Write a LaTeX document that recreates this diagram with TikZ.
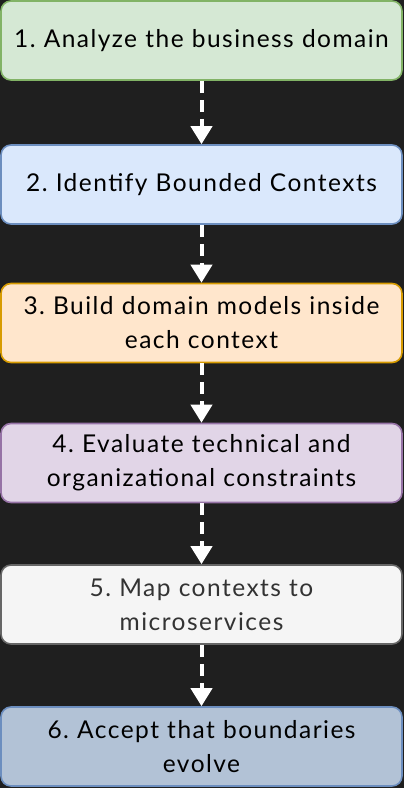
\documentclass[tikz,border=0pt]{standalone}
\usepackage{fontspec}
\setmainfont[LetterSpace=6]{Lato}
\usetikzlibrary{arrows.meta}
\definecolor{bg}{HTML}{1F1F1F}
\definecolor{gfill}{HTML}{D5E8D4}\definecolor{gdraw}{HTML}{82B366}
\definecolor{bfill}{HTML}{DAE8FC}\definecolor{bdraw}{HTML}{6C8EBF}
\definecolor{ofill}{HTML}{FFE6CC}\definecolor{odraw}{HTML}{D79B00}
\definecolor{pfill}{HTML}{E1D5E7}\definecolor{pdraw}{HTML}{9673A6}
\definecolor{wfill}{HTML}{F5F5F5}\definecolor{wdraw}{HTML}{666666}\definecolor{wtext}{HTML}{333333}
\definecolor{sfill}{HTML}{B2C2D6}
\frenchspacing
\begin{document}
\begin{tikzpicture}[x=1pt,y=-1pt,
  stepbox/.style={draw, line width=1.6pt, rounded corners=10pt, minimum width=401pt, minimum height=79pt,
    text width=398pt, align=center, inner sep=0pt, font=\fontsize{24.5}{34}\selectfont},
  flow/.style={draw=white, line width=4pt, dash pattern=on 12pt off 7pt,
    -{Triangle[width=21pt,length=18pt,fill=white]}}]
\fill[bg] (0,0) rectangle (404,788);
\useasboundingbox (0,0) rectangle (404,788);
\node[stepbox, fill=gfill, draw=gdraw] (s1) at (201.5,40.5) {1. Analyze the business domain};
\node[stepbox, fill=bfill, draw=bdraw] (s2) at (201.5,184.5) {2. Identify Bounded Contexts};
\node[stepbox, fill=ofill, draw=odraw] (s3) at (201.5,323) {3. Build domain models inside\\each context};
\node[stepbox, fill=pfill, draw=pdraw] (s4) at (201.5,463) {4. Evaluate technical and\\organizational constraints};
\node[stepbox, fill=wfill, draw=wdraw, text=wtext] (s5) at (201.5,604.5) {5. Map contexts to\\microservices};
\node[stepbox, fill=sfill, draw=bdraw] (s6) at (201.5,746.5) {6. Accept that boundaries\\evolve};
\draw[flow] (s1.south) -- (s2.north);
\draw[flow] (s2.south) -- (s3.north);
\draw[flow] (s3.south) -- (s4.north);
\draw[flow] (s4.south) -- (s5.north);
\draw[flow] (s5.south) -- (s6.north);
\end{tikzpicture}
\end{document}
